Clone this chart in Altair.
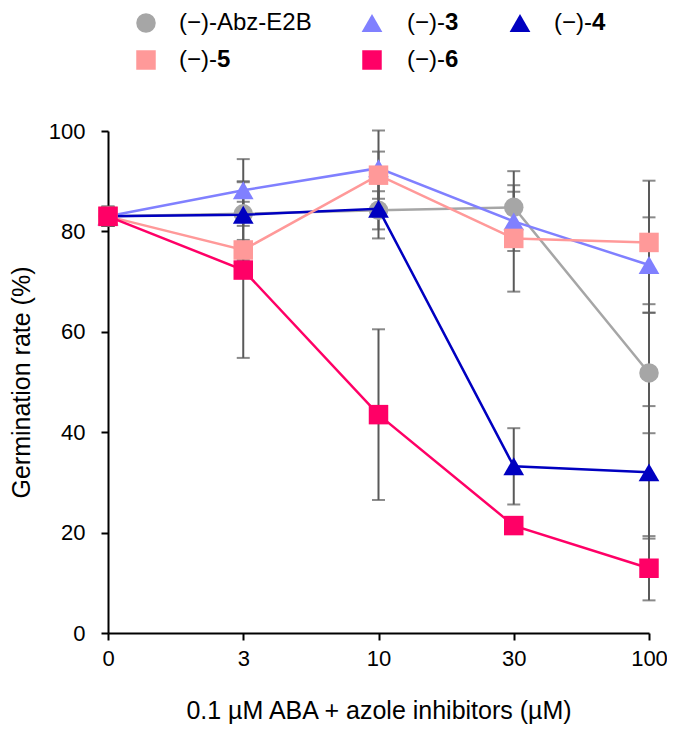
import altair as alt
import pandas as pd

# ---------------- data ----------------
concentrations = ["0", "3", "10", "30", "100"]
series_names = ["(−)-Abz-E2B", "(−)-3", "(−)-4", "(−)-5", "(−)-6"]

abz_mean = [83.0, 83.5, 84.2, 84.8, 51.8]
abz_sd = [1.9, 2.4, 3.8, 7.2, 12.0]
c3_mean = [83.0, 88.2, 92.6, 82.0, 73.3]
c3_sd = [1.9, 6.2, 7.5, 5.9, 9.5]
c4_mean = [83.0, 83.3, 84.5, 33.2, 32.0]
c4_sd = [1.9, 6.7, 5.9, 7.6, 13.2]
c5_mean = [83.0, 76.3, 91.2, 78.6, 77.8]
c5_sd = [1.9, 2.0, 4.7, 10.6, 12.3]
c6_mean = [83.0, 72.3, 43.5, 21.4, 12.9]
c6_sd = [1.9, 17.5, 17.0, 1.5, 6.4]

series_colors = ["#A6A6A6", "#8080FF", "#0000C0", "#FF9999", "#FF0066"]
series_shapes = ["circle", "triangle-up", "triangle-up", "square", "square"]
series_sizes = [380, 430, 430, 380, 380]
legend_bold = ["", "3", "4", "5", "6"]
legend_prefix = ["(−)-Abz-E2B", "(−)-", "(−)-", "(−)-", "(−)-"]

means = [abz_mean, c3_mean, c4_mean, c5_mean, c6_mean]
sds = [abz_sd, c3_sd, c4_sd, c5_sd, c6_sd]

rows = []
for s, m_list, sd_list in zip(series_names, means, sds):
    for c, m, sd in zip(concentrations, m_list, sd_list):
        rows.append({"conc": c, "series": s, "mean": m, "lo": m - sd, "hi": m + sd})
df = pd.DataFrame(rows)

# ---------------- style ----------------
FONT = "Liberation Sans"
ERR_COLOR = "#595959"
LEG_FONT = 24

x_axis = alt.Axis(title="0.1 µM ABA + azole inhibitors (µM)", labelAngle=0,
                  labelPadding=8, titlePadding=29)
y_axis = alt.Axis(title="Germination rate (%)", values=[0, 20, 40, 60, 80, 100],
                  labelPadding=16, titlePadding=14)


def X():
    return alt.X("conc:O", sort=concentrations,
                 scale=alt.Scale(type="point", padding=0), axis=x_axis)


def Y(field):
    return alt.Y(f"{field}:Q", scale=alt.Scale(domain=[0, 100], nice=False), axis=y_axis)


base = alt.Chart(df)

err_rule = base.mark_rule(color=ERR_COLOR, strokeWidth=2).encode(x=X(), y=Y("lo"), y2="hi")
err_lo = base.mark_tick(color=ERR_COLOR, thickness=2, size=13, orient="horizontal").encode(
    x=X(), y=Y("lo"))
err_hi = base.mark_tick(color=ERR_COLOR, thickness=2, size=13, orient="horizontal").encode(
    x=X(), y=Y("hi"))

layers = [err_rule, err_lo, err_hi]
for s, col, shp, sz in zip(series_names, series_colors, series_shapes, series_sizes):
    sub = alt.Chart(df[df["series"] == s])
    layers.append(sub.mark_line(color=col, strokeWidth=2.5).encode(x=X(), y=Y("mean")))
    layers.append(sub.mark_point(color=col, shape=shp, size=sz, filled=True, opacity=1)
                  .encode(x=X(), y=Y("mean")))

# ---------------- legend (manual, for bold numbers) ----------------
# layout positions (pixels relative to plot area)
leg_sym_x = [38, 264, 412, 38, 264]
leg_y = [-108, -108, -108, -71, -71]
leg_text_x = [71, 299, 446, 71, 299]
JOIN = 38

for i, s in enumerate(series_names):
    one = alt.Chart(pd.DataFrame({"prefix": [legend_prefix[i]], "bold": [legend_bold[i]]}))
    layers.append(one.mark_point(color=series_colors[i], shape=series_shapes[i],
                                 size=series_sizes[i], filled=True, opacity=1)
                  .encode(x=alt.value(leg_sym_x[i]), y=alt.value(leg_y[i])))
    if legend_bold[i] == "":
        layers.append(one.mark_text(align="left", baseline="middle", font=FONT,
                                    fontSize=LEG_FONT, color="black")
                      .encode(text="prefix:N", x=alt.value(leg_text_x[i]), y=alt.value(leg_y[i])))
    else:
        jx = leg_text_x[i] + JOIN
        layers.append(one.mark_text(align="right", baseline="middle", font=FONT,
                                    fontSize=LEG_FONT, color="black")
                      .encode(text="prefix:N", x=alt.value(jx), y=alt.value(leg_y[i])))
        layers.append(one.mark_text(align="left", baseline="middle", font=FONT,
                                    fontSize=LEG_FONT, fontWeight="bold", color="black")
                      .encode(text="bold:N", x=alt.value(jx), y=alt.value(leg_y[i])))

chart = alt.layer(*layers).properties(
    width=541, height=502,
    autosize=alt.AutoSizeParams(type="none"),
    padding={"left": 100, "top": 123, "right": 18, "bottom": 93},
).configure_view(stroke=None).configure_axis(
    domainColor="black", domainWidth=2, tickColor="black", tickWidth=2, tickSize=7,
    labelFont=FONT, labelFontSize=22, labelColor="black",
    titleFont=FONT, titleFontSize=25, titleFontWeight="normal", titleColor="black",
    grid=False,
)

chart.save("out.html", embed_options={"renderer": "svg", "actions": False})
